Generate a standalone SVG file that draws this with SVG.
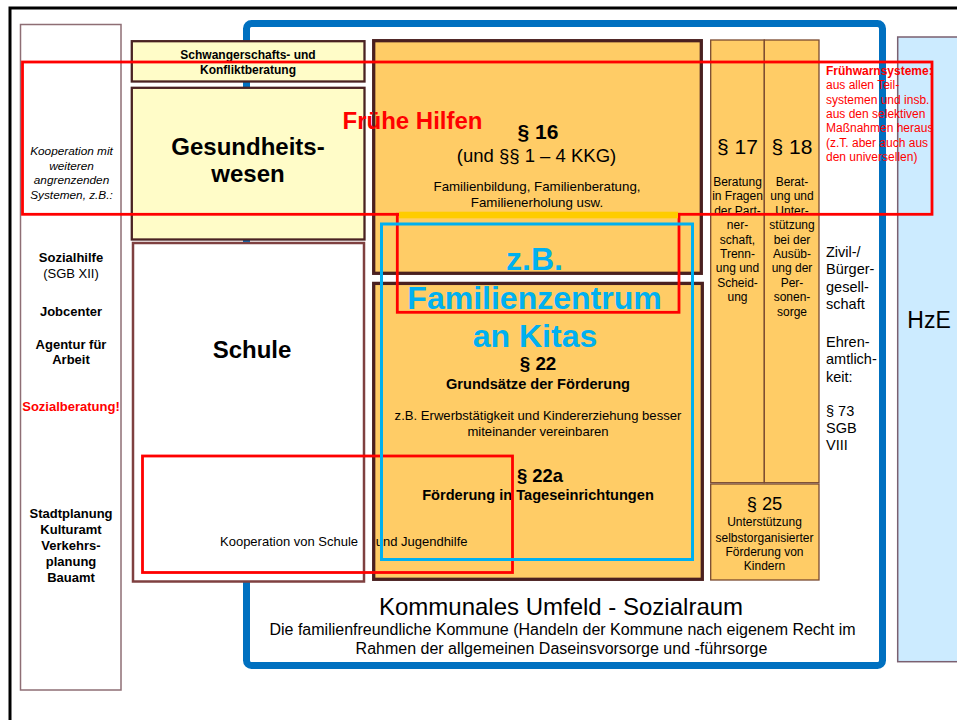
<svg xmlns="http://www.w3.org/2000/svg" width="957" height="720" viewBox="0 0 957 720">
<style>
text{font-family:"Liberation Sans",Arial,sans-serif;fill:#000}
.c{text-anchor:middle}
.b{font-weight:bold}
.i{font-style:italic}
.red{fill:#FF0000}
.cy{fill:#00B0F0}
.yel{fill:#FFFCC8;stroke:#4A2222;stroke-width:2.3}
.org{fill:#FFCC66;stroke:#4A2020;stroke-width:3.3}
.col{fill:#FFCC66;stroke:#7A4A30;stroke-width:1.3}
.rline{fill:none;stroke:#FF0000;stroke-width:2.8}
</style>
<rect x="0" y="0" width="957" height="720" fill="#FFFFFF"/>
<path d="M10,722 V8 H960" fill="none" stroke="#000" stroke-width="3"/>

<g id="kommunales-umfeld">
<rect x="246.5" y="23.5" width="636" height="642" rx="5" fill="#FFFFFF" stroke="#0070C0" stroke-width="7"/>
<text class="c" x="561" y="614.5" font-size="24">Kommunales Umfeld - Sozialraum</text>
<text class="c" x="562.5" y="635" font-size="16">Die familienfreundliche Kommune (Handeln der Kommune nach eigenem Recht im</text>
<text class="c" x="561.5" y="653.5" font-size="16">Rahmen der allgemeinen Daseinsvorsorge und -führsorge</text>
</g>

<g id="kooperation-systeme">
<rect x="20.5" y="24.5" width="100.5" height="665.5" fill="#FFFFFF" stroke="#8E6E74" stroke-width="1.5"/>
<text class="c i" x="71.5" y="155" font-size="11.8">Kooperation mit</text>
<text class="c i" x="71.5" y="169.5" font-size="11.8">weiteren</text>
<text class="c i" x="71.5" y="184" font-size="11.8">angrenzenden</text>
<text class="c i" x="71.5" y="198.5" font-size="11.8">Systemen, z.B.:</text>
<text class="c b" x="71" y="262" font-size="13">Sozialhilfe</text>
<text class="c" x="71" y="278" font-size="13">(SGB XII)</text>
<text class="c b" x="71" y="316" font-size="13">Jobcenter</text>
<text class="c b" x="71" y="348.5" font-size="13">Agentur für</text>
<text class="c b" x="71" y="364" font-size="13">Arbeit</text>
<text class="c b red" x="71" y="411" font-size="13">Sozialberatung!</text>
<text class="c b" x="71" y="518" font-size="13">Stadtplanung</text>
<text class="c b" x="71" y="534" font-size="13">Kulturamt</text>
<text class="c b" x="71" y="549.5" font-size="13">Verkehrs-</text>
<text class="c b" x="71" y="565.5" font-size="13">planung</text>
<text class="c b" x="71" y="581.5" font-size="13">Bauamt</text>
</g>

<g id="schwangerschaftsberatung">
<rect class="yel" x="131.8" y="41.2" width="232.7" height="40.3"/>
<text class="c b" x="248" y="59.3" font-size="12">Schwangerschafts- und</text>
<text class="c b" x="248" y="73.6" font-size="12">Konfliktberatung</text>
</g>

<g id="gesundheitswesen">
<rect class="yel" x="131.8" y="87.8" width="232.7" height="151.7"/>
<text class="c b" x="248" y="155" font-size="24">Gesundheits-</text>
<text class="c b" x="248" y="182" font-size="24">wesen</text>
</g>

<g id="schule">
<rect x="133" y="243" width="231" height="338.5" fill="#FFFFFF" stroke="#7F4040" stroke-width="2.5"/>
<text class="c b" x="252" y="357.5" font-size="24">Schule</text>
</g>

<g id="p16">
<rect class="org" x="373.7" y="40.7" width="327.6" height="232.6"/>
<text class="c b" x="538" y="138.5" font-size="21">§ 16</text>
<text class="c" x="536.5" y="161.5" font-size="18.5">(und §§ 1 – 4 KKG)</text>
<text class="c" x="537" y="190.7" font-size="13.3">Familienbildung, Familienberatung,</text>
<text class="c" x="537" y="207" font-size="13.3">Familienerholung usw.</text>
</g>

<g id="p22">
<rect class="org" x="373.7" y="283.4" width="328.6" height="295.9"/>
<text class="c b" x="538" y="369.5" font-size="18.8">§ 22</text>
<text class="c b" x="538" y="388.5" font-size="14.6">Grundsätze der Förderung</text>
<text class="c" x="538" y="420.3" font-size="13.1">z.B. Erwerbstätigkeit und Kindererziehung besser</text>
<text class="c" x="538" y="436" font-size="13.1">miteinander vereinbaren</text>
<text class="c b" x="540" y="481.6" font-size="18.4">§ 22a</text>
<text class="c b" x="538" y="500.2" font-size="14.6">Förderung in Tageseinrichtungen</text>
</g>

<g id="p17">
<rect class="col" x="710.7" y="40" width="53.6" height="442.7"/>
<text class="c" x="737.5" y="154.3" font-size="21">§ 17</text>
<text class="c" font-size="12"><tspan x="737.5" y="186">Beratung</tspan><tspan x="737.5" y="200.4">in Fragen</tspan><tspan x="737.5" y="214.8">der Part-</tspan><tspan x="737.5" y="229.2">ner-</tspan><tspan x="737.5" y="243.6">schaft,</tspan><tspan x="737.5" y="258">Trenn-</tspan><tspan x="737.5" y="272.4">ung und</tspan><tspan x="737.5" y="286.8">Scheid-</tspan><tspan x="737.5" y="301.2">ung</tspan></text>
</g>

<g id="p18">
<rect class="col" x="764.3" y="40" width="54.7" height="442.7"/>
<text class="c" x="792" y="154.3" font-size="21">§ 18</text>
<text class="c" font-size="12"><tspan x="792" y="186">Berat-</tspan><tspan x="792" y="200.4">ung und</tspan><tspan x="792" y="214.8">Unter-</tspan><tspan x="792" y="229.2">stützung</tspan><tspan x="792" y="243.6">bei der</tspan><tspan x="792" y="258">Ausüb-</tspan><tspan x="792" y="272.4">ung der</tspan><tspan x="792" y="286.8">Per-</tspan><tspan x="792" y="301.2">sonen-</tspan><tspan x="792" y="315.6">sorge</tspan></text>
</g>

<g id="p25">
<rect class="col" x="710.7" y="484" width="108.3" height="96"/>
<text class="c" x="764.5" y="510" font-size="18.3">§ 25</text>
<text class="c" font-size="12"><tspan x="764.5" y="526">Unterstützung</tspan><tspan x="764.5" y="541.6">selbstorganisierter</tspan><tspan x="764.5" y="556">Förderung von</tspan><tspan x="764.5" y="570">Kindern</tspan></text>
</g>

<g id="zivilgesellschaft">
<text font-size="14.5"><tspan x="826" y="257">Zivil-/</tspan><tspan x="826" y="274.4">Bürger-</tspan><tspan x="826" y="291.8">gesell-</tspan><tspan x="826" y="309.2">schaft</tspan><tspan x="826" y="347">Ehren-</tspan><tspan x="826" y="364.4">amtlich-</tspan><tspan x="826" y="381.8">keit:</tspan><tspan x="826" y="415.5">§ 73</tspan><tspan x="826" y="433">SGB</tspan><tspan x="826" y="450.4">VIII</tspan></text>
</g>

<g id="hze">
<rect x="897.7" y="37" width="70" height="624.7" fill="#CCEBFF" stroke="#7A6070" stroke-width="1.5"/>
<text x="907.3" y="328.2" font-size="23">HzE</text>
</g>

<g id="kooperation-schule-jugendhilfe">
<text font-size="13"><tspan x="220" y="546">Kooperation von Schule</tspan><tspan x="375.7" y="546">und Jugendhilfe</tspan></text>
<rect class="rline" x="142.5" y="456" width="370" height="116.5"/>
</g>

<g id="fruehe-hilfen">
<rect class="rline" x="22.5" y="62" width="909.5" height="152.3"/>
<text class="c b red" x="412.5" y="128.6" font-size="24">Frühe Hilfen</text>
</g>

<g id="fruehwarnsysteme">
<text class="red" font-size="12"><tspan x="826" y="75" font-weight="bold">Frühwarnsysteme:</tspan><tspan x="826" y="89.3">aus allen Teil-</tspan><tspan x="826" y="103.6">systemen und insb.</tspan><tspan x="826" y="117.9">aus den selektiven</tspan><tspan x="826" y="132.2">Maßnahmen heraus</tspan><tspan x="826" y="146.5">(z.T. aber auch aus</tspan><tspan x="826" y="160.8">den universellen)</tspan></text>
</g>

<g id="familienzentrum">
<rect class="rline" x="397.3" y="214.3" width="281.7" height="98"/>
<rect x="399" y="211.7" width="279" height="6.6" fill="#FFCC00"/>
<rect x="381.5" y="224" width="311" height="335.5" fill="none" stroke="#00B0F0" stroke-width="3"/>
<text class="c b cy" x="534.5" y="269.5" font-size="32">z.B.</text>
<text class="c b cy" x="534.5" y="308.5" font-size="32">Familienzentrum</text>
<text class="c b cy" x="535" y="346.5" font-size="32">an Kitas</text>
</g>

<g id="connectors"/>
</svg>
